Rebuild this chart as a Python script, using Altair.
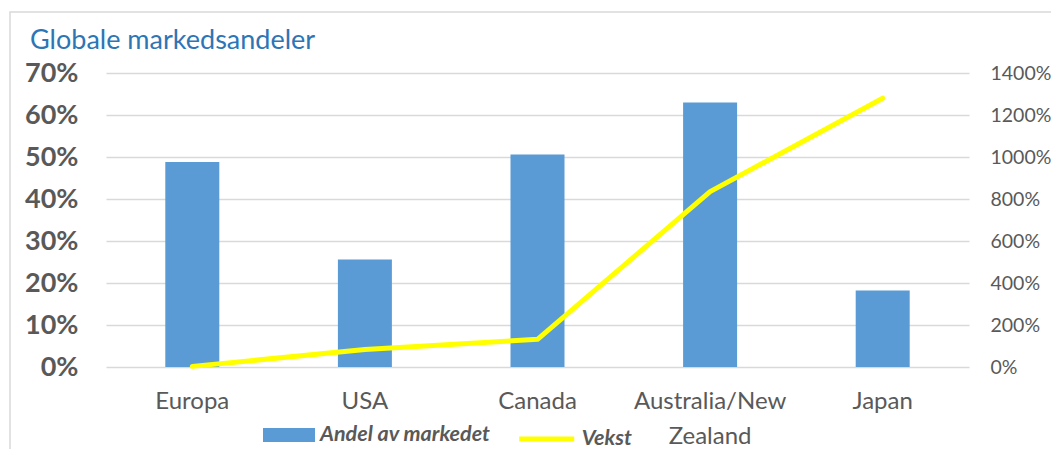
import altair as alt
import pandas as pd

categories = ["Europa", "USA", "Canada", "Australia/New Zealand", "Japan"]
andel = [0.488, 0.256, 0.506, 0.630, 0.182]
vekst = [0.03, 0.83, 1.32, 8.35, 12.80]
left_ticks = [0, 0.1, 0.2, 0.3, 0.4, 0.5, 0.6, 0.7]
right_ticks = [0, 2, 4, 6, 8, 10, 12, 14]
bar_name = "Andel av markedet"
line_name = "Vekst"
title_text = "Globale markedsandeler"

df = pd.DataFrame({"region": categories, "andel": andel, "vekst": vekst,
                   "s1": [bar_name] * len(categories), "s2": [line_name] * len(categories)})

FONT = "Lato"
GRAY = "#595959"
BLUE = "#5B9BD5"
YELLOW = "#FFFF00"
GRID = "#D9D9D9"

x_scale = alt.Scale(paddingInner=0, paddingOuter=0)

x_axis = alt.Axis(title=None, labelAngle=0, labelFontSize=24, labelColor=GRAY, labelFont=FONT,
                  ticks=False, domain=False, labelPadding=22, labelLineHeight=35,
                  labelBaseline="top",
                  labelExpr="datum.value == 'Australia/New Zealand' ? ['Australia/New', 'Zealand'] : datum.value")

frame = alt.Chart(pd.DataFrame({"f": [0]})).mark_rect(
    fill="white", fillOpacity=0, stroke=GRID, strokeWidth=1.5, clip=False
).encode(x=alt.value(-96), x2=alt.value(1100), y=alt.value(-61), y2=alt.value(600))

title = alt.Chart(pd.DataFrame({"t": [title_text]})).mark_text(
    font=FONT, fontSize=27, color="#2E75B6", align="left", baseline="alphabetic", clip=False
).encode(x=alt.value(-76), y=alt.value(-24), text="t:N")

bars = alt.Chart(df).mark_bar(size=54).encode(
    x=alt.X("region:N", sort=categories, scale=x_scale, axis=x_axis),
    y=alt.Y("andel:Q", scale=alt.Scale(domain=[0, 0.7], nice=False),
            axis=alt.Axis(values=left_ticks, format=".0%", title=None, orient="left",
                          labelFont=FONT, labelFontSize=27, labelFontWeight="bold",
                          labelColor=GRAY, ticks=False, domain=False, gridColor=GRID,
                          gridWidth=1.3, labelPadding=28)),
    color=alt.Color("s1:N", scale=alt.Scale(domain=[bar_name], range=[BLUE]),
                    legend=alt.Legend(orient="none", legendX=157, legendY=336, title=None,
                                      symbolType="M-1,-0.27H1V0.27H-1Z", symbolSize=2704,
                                      labelFont=FONT, labelFontSize=21.5, labelFontWeight="bold",
                                      labelFontStyle="italic", labelColor=GRAY, labelOffset=5,
                                      labelLimit=400, padding=0, symbolStrokeWidth=0)),
)

line = alt.Chart(df).mark_line(strokeWidth=5, strokeCap="round", strokeJoin="round").encode(
    x=alt.X("region:N", sort=categories, scale=x_scale, bandPosition=0.5),
    y=alt.Y("vekst:Q", scale=alt.Scale(domain=[0, 14], nice=False),
            axis=alt.Axis(values=right_ticks, format=".0%", title=None, orient="right",
                          labelFont=FONT, labelFontSize=19.5, labelColor=GRAY, ticks=False,
                          domain=False, grid=False, labelPadding=21)),
    color=alt.Color("s2:N", scale=alt.Scale(domain=[line_name], range=[YELLOW]),
                    legend=alt.Legend(orient="none", legendX=410.7, legendY=336, title=None,
                                      symbolType="stroke", symbolSize=3025, symbolStrokeWidth=5,
                                      labelFont=FONT, labelFontSize=21.5, labelFontWeight="bold",
                                      labelFontStyle="italic", labelColor=GRAY, labelOffset=5,
                                      labelLimit=400, padding=0)),
)

chart = alt.layer(frame, title, bars, line).resolve_scale(
    y="independent", color="independent"
).properties(
    width=863, height=294,
    padding={"left": 98, "top": 65, "right": 82, "bottom": 82},
    autosize=alt.AutoSizeParams(type="none"),
).configure_view(strokeWidth=0)

chart.save("out.html", embed_options={"renderer": "svg", "actions": False})
